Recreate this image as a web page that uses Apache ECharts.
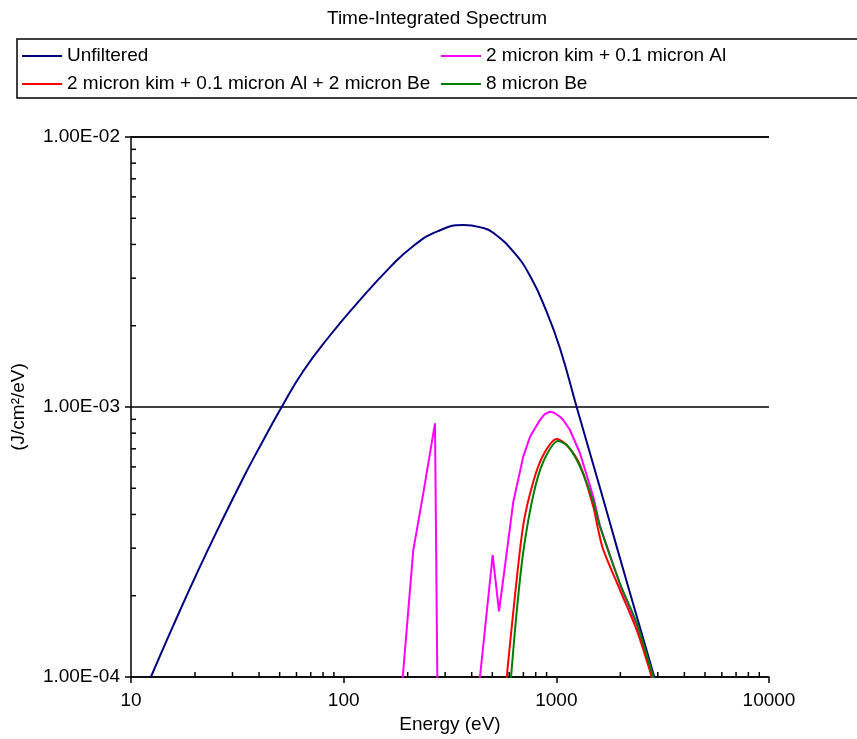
<!DOCTYPE html>
<html>
<head>
<meta charset="utf-8">
<title>Time-Integrated Spectrum</title>
<script src="https://cdn.jsdelivr.net/npm/echarts@6/dist/echarts.min.js"></script>
<style>
html, body { margin: 0; padding: 0; background: #fff; }
#chart { width: 857px; height: 739px; }
</style>
</head>
<body>
<div id="chart"></div>
<script>
// energy in eV, fluence in J/cm2/eV (values below 1e-4 only make the lines leave the plot)
var seriesNames = [
    "Unfiltered",
    "2 micron kim + 0.1 micron Al",
    "2 micron kim + 0.1 micron Al + 2 micron Be",
    "8 micron Be"
];

var unfilteredE = [11.5, 12.4, 15.8, 20.4, 26.2, 33.7, 39, 51.1, 64.6, 86.2, 115, 165, 212, 274, 365, 453, 505, 628, 752, 901, 1040, 1246, 1605, 1922, 2388, 2910, 3100];
var unfilteredV = [8.7e-5, 1.0e-4, 1.55e-4, 2.42e-4, 3.66e-4, 5.46e-4, 6.79e-4, 1.0e-3, 1.36e-3, 1.84e-3, 2.41e-3, 3.29e-3, 3.94e-3, 4.46e-3, 4.72e-3, 4.60e-3, 4.42e-3, 3.76e-3, 3.06e-3, 2.25e-3, 1.65e-3, 1.0e-3, 5.01e-4, 3.04e-4, 1.68e-4, 9.8e-5, 8.2e-5];

var kimAlE = [180, 189.6, 212.5, 236.8, 268.8, 276, 300, 400, 430, 437.5, 502, 537.6, 584.5, 627.6, 699, 752, 837, 880, 934, 970, 1000, 1040, 1078, 1159, 1292, 1492, 1605, 1992, 2388, 2857, 3000];
var kimAlV = [6.1e-5, 1.0e-4, 2.95e-4, 4.79e-4, 8.70e-4, 9.0e-5, 1e-6, 1e-6, 8.8e-5, 1.0e-4, 2.83e-4, 1.75e-4, 2.89e-4, 4.46e-4, 6.55e-4, 7.76e-4, 8.95e-4, 9.40e-4, 9.61e-4, 9.55e-4, 9.40e-4, 9.20e-4, 8.95e-4, 8.22e-4, 6.74e-4, 4.65e-4, 3.62e-4, 2.20e-4, 1.56e-4, 1.0e-4, 8.8e-5];

var kimAlBeE = [560, 584.5, 627.6, 699.3, 779.3, 868.4, 1004, 1119, 1292, 1492, 1575, 1663, 1992, 2388, 2808, 2950];
var kimAlBeV = [7.2e-5, 1.0e-4, 1.745e-4, 3.66e-4, 5.29e-4, 6.64e-4, 7.61e-4, 7.23e-4, 6.10e-4, 4.27e-4, 3.50e-4, 2.955e-4, 2.10e-4, 1.49e-4, 1.0e-4, 8.5e-5];

var beE = [600, 612.1, 651.1, 699.3, 779.3, 868.4, 1021, 1138, 1292, 1492, 1605, 1992, 2388, 2857, 3000];
var beV = [8.4e-5, 1.0e-4, 1.745e-4, 2.91e-4, 4.72e-4, 6.27e-4, 7.48e-4, 7.13e-4, 6.01e-4, 4.46e-4, 3.60e-4, 2.22e-4, 1.58e-4, 1.0e-4, 8.8e-5];

var seriesColors = ["#000080", "#FF00FF", "#FF0000", "#008000"];

// axes
var xMin = 10, xMax = 10000;
var yMin = 1e-4, yMax = 1e-2;
var yTickValues = [1e-4, 1e-3, 1e-2];
var yTickLabels = ["1.00E-04", "1.00E-03", "1.00E-02"];
var xMinorTicks = [20, 30, 40, 50, 60, 70, 80, 90, 200, 300, 400, 500, 600, 700, 800, 900, 2000, 3000, 4000, 5000, 6000, 7000, 8000, 9000];
var yMinorTicks = [2e-4, 3e-4, 4e-4, 5e-4, 6e-4, 7e-4, 8e-4, 9e-4, 2e-3, 3e-3, 4e-3, 5e-3, 6e-3, 7e-3, 8e-3, 9e-3];

var font = "'Liberation Sans', Arial, Helvetica, sans-serif";

function pairs(xs, ys) {
    return xs.map(function (x, i) { return [x, ys[i]]; });
}

function lineSeries(idx, xs, ys, smooth) {
    return {
        name: seriesNames[idx],
        type: "line",
        data: pairs(xs, ys),
        smooth: smooth,
        showSymbol: false,
        clip: true,
        animation: false,
        itemStyle: { color: seriesColors[idx] },
        lineStyle: { color: seriesColors[idx], width: 2 }
    };
}

var chart = echarts.init(document.getElementById("chart"));

var legendBase = {
    orient: "vertical",
    top: 46,
    padding: 0,
    itemWidth: 40,
    itemHeight: 2,
    itemGap: 8,
    icon: "rect",
    selectedMode: false,
    textStyle: { fontSize: 19, color: "#000", fontFamily: font, lineHeight: 20 }
};

var option = {
    backgroundColor: "#fff",
    animation: false,
    title: {
        text: "Time-Integrated Spectrum",
        left: 327,
        top: 9,
        padding: 0,
        textStyle: { fontSize: 19, fontWeight: "normal", color: "#000", fontFamily: font }
    },
    legend: [
        Object.assign({}, legendBase, { left: 22, data: [seriesNames[0], seriesNames[2]] }),
        Object.assign({}, legendBase, { left: 441, data: [seriesNames[1], seriesNames[3]] })
    ],
    graphic: [{
        type: "rect",
        shape: { x: 17, y: 39, width: 880, height: 59 },
        style: { fill: "none", stroke: "#000", lineWidth: 1.5 },
        silent: true
    }],
    grid: {
        left: 131,
        right: 88,
        top: 137,
        bottom: 62,
        containLabel: false,
        outerBoundsMode: "none"
    },
    xAxis: {
        type: "log",
        logBase: 10,
        min: xMin,
        max: xMax,
        name: "Energy (eV)",
        nameLocation: "middle",
        nameGap: 35,
        nameTextStyle: { fontSize: 19, color: "#000", fontFamily: font },
        axisLine: { show: true, lineStyle: { color: "#000", width: 1.5 } },
        axisTick: { show: true, length: 6, lineStyle: { color: "#000", width: 1.5 } },
        axisLabel: {
            margin: 14,
            fontSize: 19,
            color: "#000",
            fontFamily: font,
            formatter: function (v) { return String(Math.round(v)); }
        },
        splitLine: { show: false },
        minorTick: { show: false }
    },
    yAxis: {
        type: "log",
        logBase: 10,
        min: yMin,
        max: yMax,
        name: "(J/cm\u00b2/eV)",
        nameLocation: "middle",
        nameGap: 103,
        nameTextStyle: { fontSize: 19, color: "#000", fontFamily: font },
        axisLine: { show: true, lineStyle: { color: "#000", width: 1.5 } },
        axisTick: { show: true, length: 6, lineStyle: { color: "#000", width: 1.5 } },
        axisLabel: {
            margin: 11,
            fontSize: 19,
            color: "#000",
            fontFamily: font,
            formatter: function (v) {
                var best = 0;
                for (var i = 1; i < yTickValues.length; i++) {
                    if (Math.abs(Math.log10(v) - Math.log10(yTickValues[i])) < Math.abs(Math.log10(v) - Math.log10(yTickValues[best]))) best = i;
                }
                return yTickLabels[best];
            }
        },
        splitLine: { show: true, lineStyle: { color: "#000", width: 1.5 } },
        minorTick: { show: false }
    },
    series: [
        lineSeries(0, unfilteredE, unfilteredV, true),
        lineSeries(1, kimAlE, kimAlV, false),
        lineSeries(2, kimAlBeE, kimAlBeV, 0.3),
        lineSeries(3, beE, beV, 0.3),
        // minor ticks, pointing into the plot
        {
            type: "custom",
            silent: true,
            clip: false,
            animation: false,
            data: xMinorTicks.map(function (v) { return [v, yMin]; }),
            renderItem: function (params, api) {
                var p = api.coord([api.value(0), api.value(1)]);
                return { type: "line", shape: { x1: p[0], y1: p[1], x2: p[0], y2: p[1] - 5 }, style: { stroke: "#000", lineWidth: 1.5 } };
            }
        },
        {
            type: "custom",
            silent: true,
            clip: false,
            animation: false,
            data: yMinorTicks.map(function (v) { return [xMin, v]; }),
            renderItem: function (params, api) {
                var p = api.coord([api.value(0), api.value(1)]);
                return { type: "line", shape: { x1: p[0], y1: p[1], x2: p[0] + 5, y2: p[1] }, style: { stroke: "#000", lineWidth: 1.5 } };
            }
        }
    ]
};

chart.setOption(option);
</script>
</body>
</html>
